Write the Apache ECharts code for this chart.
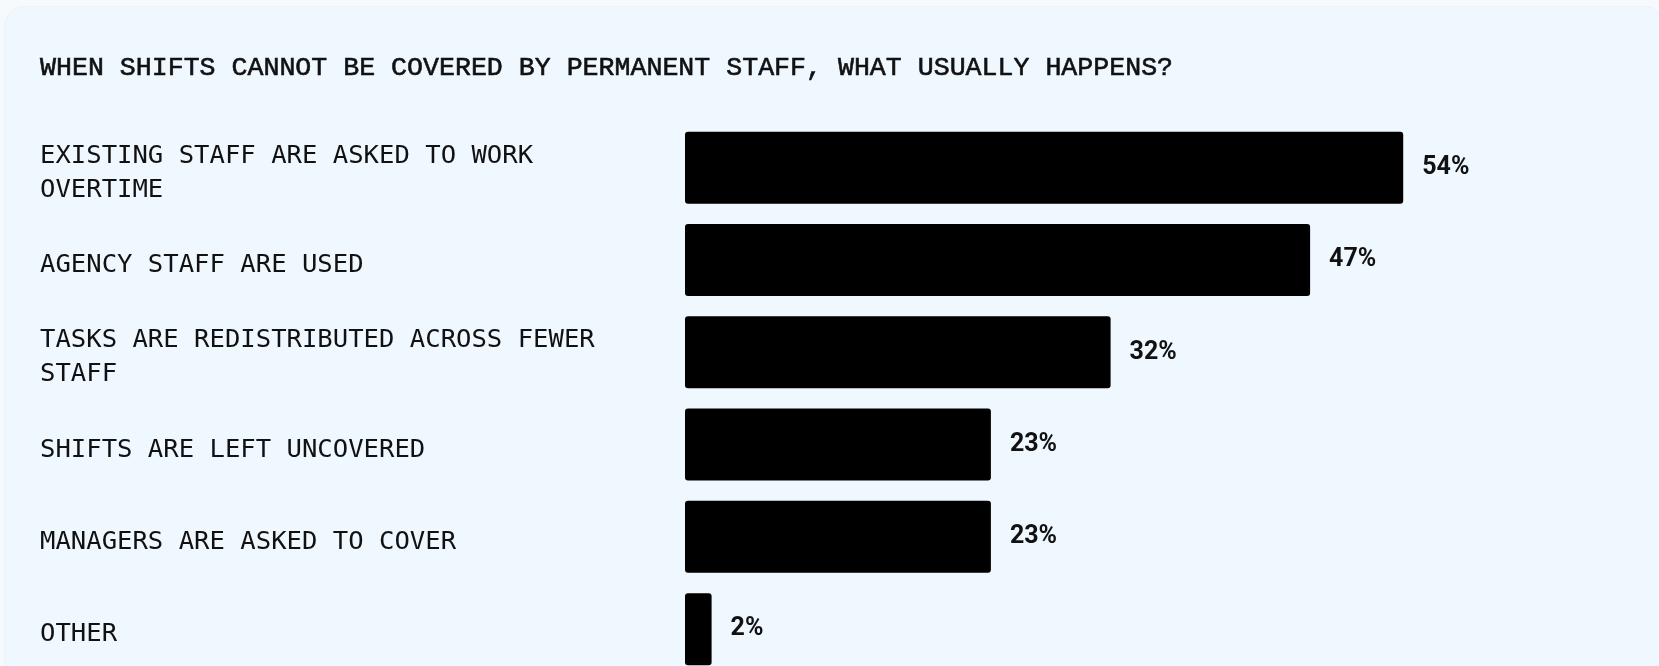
<!DOCTYPE html>
<html>
<head>
<meta charset="utf-8">
<title>Shift cover</title>
<script src="https://cdn.jsdelivr.net/npm/echarts@6/dist/echarts.min.js"></script>
<style>
  html, body { margin: 0; padding: 0; background: #f6fafd; overflow: hidden; }
  #chart { width: 1659px; height: 666px; }
</style>
</head>
<body>
<div id="chart"></div>
<script>
// Survey answers, top to bottom
const categories = [
  'EXISTING STAFF ARE ASKED TO WORK OVERTIME',
  'AGENCY STAFF ARE USED',
  'TASKS ARE REDISTRIBUTED ACROSS FEWER STAFF',
  'SHIFTS ARE LEFT UNCOVERED',
  'MANAGERS ARE ASKED TO COVER',
  'OTHER'
];
// Share of respondents, percent
const values = [54, 47, 32, 23, 23, 2];

const titleText = 'WHEN SHIFTS CANNOT BE COVERED BY PERMANENT STAFF, WHAT USUALLY HAPPENS?';

const chart = echarts.init(document.getElementById('chart'), null, { renderer: 'canvas' });

// The answer text sits a few pixels below each bar's centre, so it lives on
// its own label-only axis in a second grid nudged slightly downward.
const gridBase = { left: 685, width: 798, height: 553.8, containLabel: false, outerBoundsMode: 'none' };

chart.setOption({
  backgroundColor: '#f6fafd',
  animation: false,
  graphic: [{
    type: 'rect',
    z: -10,
    silent: true,
    shape: { x: 4.5, y: 6.5, width: 1660, height: 800, r: 20 },
    style: { fill: '#eff7ff', stroke: '#edf3f8', lineWidth: 1 }
  }],
  title: {
    text: titleText,
    left: 40,
    top: 53,
    padding: 0,
    textStyle: {
      fontFamily: '"Liberation Mono", monospace',
      fontSize: 26.6,
      fontWeight: 'normal',
      lineHeight: 30,
      color: '#111111',
      textBorderColor: '#111111',
      textBorderWidth: 0.6
    }
  },
  grid: [
    Object.assign({ top: 121.5 }, gridBase),
    Object.assign({ top: 127 }, gridBase)
  ],
  xAxis: [
    { type: 'value', gridIndex: 0, min: 0, max: 60, show: false },
    { type: 'value', gridIndex: 1, min: 0, max: 60, show: false }
  ],
  yAxis: [
    {
      type: 'category',
      gridIndex: 0,
      data: categories,
      inverse: true,
      axisLine: { show: false },
      axisTick: { show: false },
      splitLine: { show: false },
      axisLabel: { show: false }
    },
    {
      type: 'category',
      gridIndex: 1,
      data: categories,
      inverse: true,
      axisLine: { show: false },
      axisTick: { show: false },
      splitLine: { show: false },
      axisLabel: {
        align: 'left',
        margin: 645,
        width: 590,
        overflow: 'break',
        fontFamily: '"DejaVu Sans Mono", monospace',
        fontSize: 25.6,
        lineHeight: 34,
        color: '#111111'
      }
    }
  ],
  series: [{
    type: 'bar',
    xAxisIndex: 0,
    yAxisIndex: 0,
    data: values,
    barWidth: 72,
    itemStyle: { color: '#000000', borderRadius: 3 },
    label: {
      show: true,
      position: 'right',
      distance: 19,
      formatter: '{c}%',
      fontFamily: 'Roboto, "Noto Sans", sans-serif',
      fontWeight: 'bold',
      fontSize: 25,
      color: '#111111'
    }
  }]
});
</script>
</body>
</html>
